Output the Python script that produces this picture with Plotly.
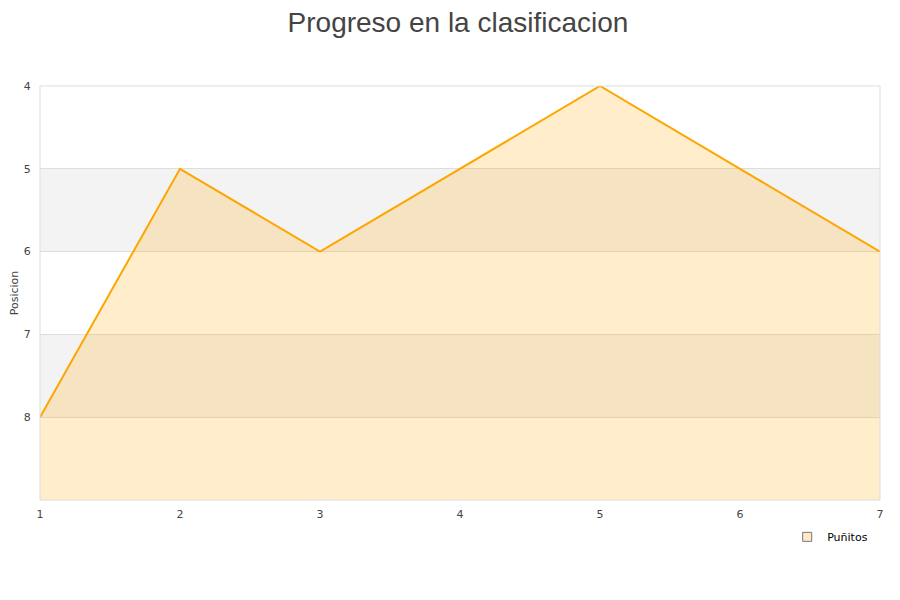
import plotly.graph_objects as go

jornadas = [1, 2, 3, 4, 5, 6, 7]
posicion = [8, 5, 6, 5, 4, 5, 6]
y_ticks = [4, 5, 6, 7, 8]
serie = "Puñitos"
fondo = 9

fig = go.Figure()
fig.add_trace(go.Scatter(x=jornadas, y=[fondo] * len(jornadas), mode="lines",
                         line=dict(width=0, color="rgba(0,0,0,0)"),
                         showlegend=False, hoverinfo="skip"))
fig.add_trace(go.Scatter(x=jornadas, y=posicion, mode="lines", name=serie,
                         fill="tonexty", fillcolor="rgba(255,165,0,0.2)",
                         line=dict(color="#FFA500", width=2), showlegend=False))
# legend swatch
fig.add_trace(go.Scatter(x=[None], y=[None], mode="markers", name=serie,
                         marker=dict(symbol="square", size=9, color="#FFEBC8",
                                     line=dict(color="#777777", width=1)),
                         showlegend=True))

shapes = []
for a, b in [(5, 6), (7, 8)]:
    shapes.append(dict(type="rect", xref="paper", yref="y", x0=0, x1=1, y0=a, y1=b,
                       fillcolor="#F3F3F3", line=dict(width=0), layer="below"))
shapes.append(dict(type="rect", xref="paper", yref="paper", x0=0, x1=1, y0=0, y1=1,
                   line=dict(color="#DDDDDD", width=1), layer="above"))

fig.update_layout(
    width=900, height=600,
    margin=dict(l=32, r=28, t=78, b=108),
    paper_bgcolor="white", plot_bgcolor="white",
    title=dict(text="Progreso en la clasificacion", x=0.5, xanchor="center",
               y=1.0, yanchor="top", pad=dict(t=4, b=0),
               font=dict(family="Liberation Sans", size=28, color="#444444")),
    font=dict(family="DejaVu Sans", size=11, color="#444444"),
    shapes=shapes,
    xaxis=dict(range=[1, 7], tickvals=jornadas, showgrid=False, zeroline=False,
               showline=False, ticks="outside", ticklen=4, tickcolor="rgba(0,0,0,0)",
               tickfont=dict(size=11, color="#444444")),
    yaxis=dict(range=[9, 4], tickvals=y_ticks, showgrid=True, gridcolor="#DDDDDD",
               zeroline=False, showline=False, ticks="outside", ticklen=6,
               tickcolor="rgba(0,0,0,0)", automargin=False,
               title=dict(text="Posicion", font=dict(size=11, color="#444444"), standoff=12),
               tickfont=dict(size=11, color="#444444")),
    legend=dict(x=0.8895, xanchor="left", y=-0.089, yanchor="middle",
                font=dict(family="DejaVu Sans", size=11, color="#000000"),
                bgcolor="rgba(0,0,0,0)", itemwidth=30),
    showlegend=True,
)

fig.write_html("out.html")
